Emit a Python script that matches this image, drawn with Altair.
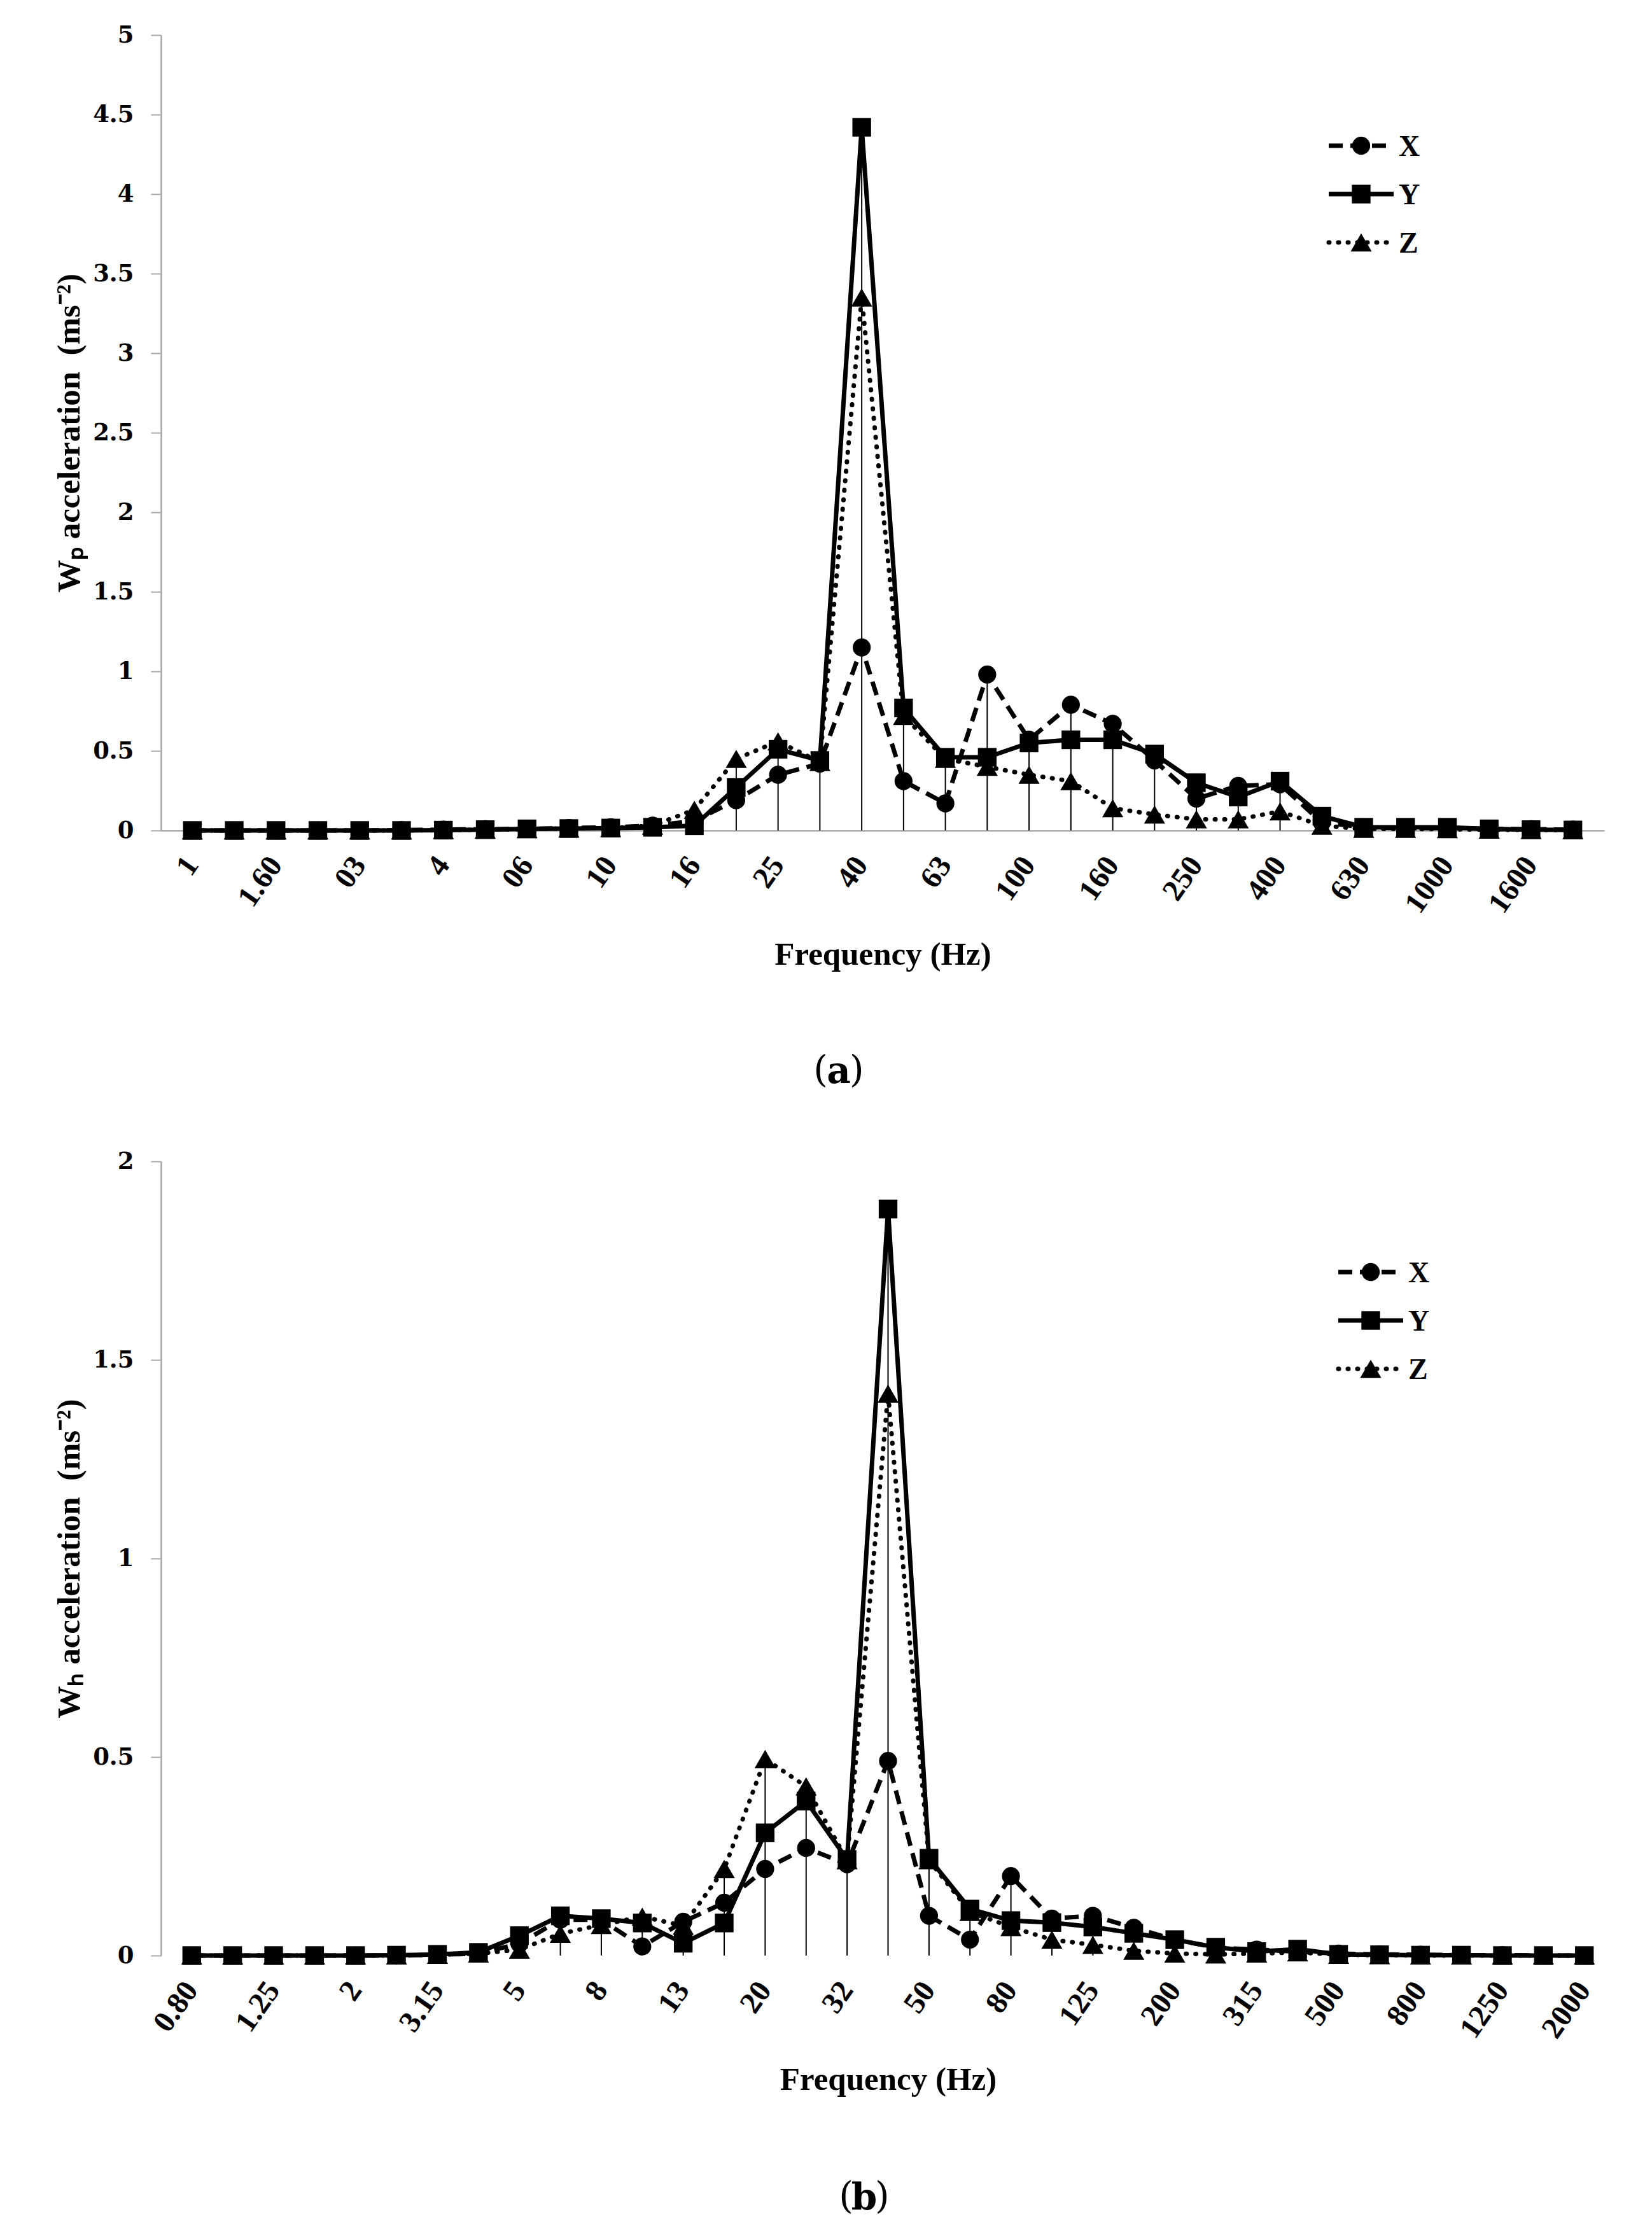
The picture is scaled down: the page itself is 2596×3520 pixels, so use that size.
import json
import altair as alt
import pandas as pd

# ---------------- data ----------------
series_names = ["X", "Y", "Z"]

# panel (a): 1/3-octave bands 1 Hz .. 2000 Hz
freq_a = ["1", "1.25", "1.6", "2", "2.5", "3.15", "4", "5", "6.3", "8", "10", "12.5",
          "16", "20", "25", "31.5", "40", "50", "63", "80", "100", "125", "160", "200",
          "250", "315", "400", "500", "630", "800", "1000", "1250", "1600", "2000"]
ticklab_a = ["1", "", "1.60", "", "03", "", "4", "", "06", "", "10", "", "16", "", "25", "",
             "40", "", "63", "", "100", "", "160", "", "250", "", "400", "", "630", "",
             "1000", "", "1600", ""]
x_a = [0.0, 0.0, 0.0, 0.0, 0.0, 0.002, 0.005, 0.008, 0.01, 0.015, 0.02, 0.03,
       0.06, 0.19, 0.35, 0.42, 1.15, 0.31, 0.17, 0.98, 0.57, 0.79, 0.67, 0.44,
       0.20, 0.28, 0.29, 0.05, 0.02, 0.015, 0.015, 0.01, 0.008, 0.005]
y_a = [0.0, 0.0, 0.0, 0.0, 0.0, 0.0, 0.002, 0.005, 0.01, 0.012, 0.015, 0.02,
       0.03, 0.27, 0.51, 0.44, 4.42, 0.77, 0.46, 0.46, 0.55, 0.57, 0.57, 0.48,
       0.30, 0.21, 0.31, 0.09, 0.02, 0.02, 0.02, 0.01, 0.005, 0.003]
z_a = [0.0, 0.0, 0.0, 0.0, 0.0, 0.0, 0.002, 0.005, 0.008, 0.012, 0.015, 0.03,
       0.13, 0.45, 0.56, 0.43, 3.35, 0.72, 0.45, 0.40, 0.35, 0.31, 0.14, 0.10,
       0.07, 0.07, 0.12, 0.03, 0.01, 0.01, 0.008, 0.005, 0.003, 0.002]
yticks_a = [0, 0.5, 1, 1.5, 2, 2.5, 3, 3.5, 4, 4.5, 5]

# panel (b): 1/3-octave bands 0.8 Hz .. 2000 Hz
freq_b = ["0.8", "1", "1.25", "1.6", "2", "2.5", "3.15", "4", "5", "6.3", "8", "10",
          "12.5", "16", "20", "25", "31.5", "40", "50", "63", "80", "100", "125", "160",
          "200", "250", "315", "400", "500", "630", "800", "1000", "1250", "1600", "2000"]
ticklab_b = ["0.80", "", "1.25", "", "2", "", "3.15", "", "5", "", "8", "", "13", "",
             "20", "", "32", "", "50", "", "80", "", "125", "", "200", "", "315", "",
             "500", "", "800", "", "1250", "", "2000"]
x_b = [0.0, 0.0, 0.0, 0.0, 0.0, 0.0, 0.002, 0.005, 0.03, 0.09, 0.09, 0.023,
       0.085, 0.133, 0.218, 0.271, 0.23, 0.49, 0.10, 0.04, 0.20, 0.093, 0.10, 0.07,
       0.04, 0.02, 0.015, 0.01, 0.005, 0.003, 0.002, 0.001, 0.001, 0.0, 0.0]
y_b = [0.0, 0.0, 0.0, 0.0, 0.0, 0.001, 0.003, 0.008, 0.05, 0.10, 0.093, 0.082,
       0.031, 0.082, 0.309, 0.389, 0.242, 1.88, 0.245, 0.117, 0.088, 0.083, 0.072, 0.056,
       0.04, 0.021, 0.01, 0.016, 0.003, 0.002, 0.001, 0.001, 0.0, 0.0, 0.0]
z_b = [0.0, 0.0, 0.0, 0.0, 0.0, 0.0, 0.002, 0.005, 0.015, 0.055, 0.077, 0.098,
       0.075, 0.218, 0.495, 0.426, 0.24, 1.415, 0.24, 0.11, 0.072, 0.04, 0.027, 0.012,
       0.005, 0.003, 0.005, 0.008, 0.002, 0.001, 0.0, 0.0, 0.0, 0.0, 0.0]
yticks_b = [0, 0.5, 1, 1.5, 2]

# ---------------- styling ----------------
SERIF = "Liberation Serif"
GRAY = "#a6a6a6"
STYLE = {
    "X": dict(dash=[22, 12], cap="butt", width=7, shape="circle", size=800),
    "Y": dict(dash=None, cap="butt", width=7, shape="square", size=860),
    "Z": dict(dash=[1, 14], cap="round", width=7, shape="triangle-up", size=1100),
}


def long_df(freqs, xs, ys, zs):
    rows = []
    for i, f in enumerate(freqs):
        for s, arr in zip(series_names, (xs, ys, zs)):
            rows.append({"idx": i, "freq": f, "series": s, "value": arr[i]})
    return pd.DataFrame(rows)


def drop_df(freqs, xs, ys, zs):
    return pd.DataFrame({"idx": list(range(len(freqs))), "freq": freqs,
                         "value": [max(a, b, c) for a, b, c in zip(xs, ys, zs)]})


def make_panel(freqs, ticklabs, xs, ys, zs, ymax, yticks, ytitle, width, height,
               caption, caption_x, show_xdomain, legend_x, spacer_x, spacer_y, spacer_y2):
    df = long_df(freqs, xs, ys, zs)
    dd = drop_df(freqs, xs, ys, zs)
    one = pd.DataFrame({"k": [0]})
    leg = pd.DataFrame({"series": series_names})

    x_enc = alt.X(
        "idx:O",
        scale=alt.Scale(padding=0.5),
        axis=alt.Axis(
            title="Frequency (Hz)",
            labelExpr=json.dumps(ticklabs) + "[datum.value]",
            labelAngle=-55, labelAlign="right", labelBaseline="middle",
            labelPadding=46, labelFont=SERIF, labelFontWeight="bold",
            labelFontSize=48, labelColor="black", labelOverlap=False,
            labelBound=False, labelFlush=False,
            ticks=False, tickSize=0, domain=show_xdomain, domainColor=GRAY,
            domainWidth=2.5, grid=False,
            titleFont=SERIF, titleFontSize=51, titleFontWeight="bold",
            titleColor="black", titleY=195, titleBaseline="middle",
        ),
    )
    y_enc = alt.Y(
        "value:Q",
        scale=alt.Scale(domain=[0, ymax], nice=False, zero=True),
        axis=alt.Axis(
            title=ytitle, values=yticks, labelExpr="datum.value + ''",
            grid=False, tickSize=16, tickColor=GRAY, tickWidth=2,
            domainColor=GRAY, domainWidth=2.5,
            labelFont="DejaVu Serif", labelFontWeight="bold", labelFontSize=37,
            labelColor="black", labelPadding=27,
            titleFont=SERIF, titleFontSize=51, titleFontWeight="bold",
            titleColor="black", titleX=-144, titleBaseline="middle",
        ),
    )

    layers = []
    # drop lines
    layers.append(
        alt.Chart(dd).mark_rule(color="black", strokeWidth=2).encode(
            x=x_enc, y=y_enc, y2=alt.datum(0))
    )
    for s in series_names:
        st = STYLE[s]
        line_kw = dict(color="black", strokeWidth=st["width"], strokeCap=st["cap"],
                       strokeJoin="round")
        if st["dash"]:
            line_kw["strokeDash"] = st["dash"]
        base = alt.Chart(df).transform_filter(alt.datum.series == s)
        layers.append(base.mark_line(**line_kw).encode(x=x_enc, y=y_enc))
        layers.append(base.mark_point(shape=st["shape"], filled=True, size=st["size"],
                                      color="black", opacity=1).encode(x=x_enc, y=y_enc))

    # legend (top right, inside plot)
    for r, s in enumerate(series_names):
        st = STYLE[s]
        ly = 174 + r * 76
        rule_kw = dict(color="black", strokeWidth=st["width"], strokeCap=st["cap"])
        if st["dash"]:
            rule_kw["strokeDash"] = st["dash"]
        lb = alt.Chart(leg).transform_filter(alt.datum.series == s)
        layers.append(lb.mark_rule(**rule_kw).encode(
            x=alt.value(legend_x), x2=alt.value(legend_x + 102), y=alt.value(ly)))
        layers.append(lb.mark_point(shape=st["shape"], filled=True, size=st["size"],
                                    color="black", opacity=1).encode(
            x=alt.value(legend_x + 51), y=alt.value(ly)))
        layers.append(lb.mark_text(font=SERIF, fontWeight="bold", fontSize=46,
                                   align="left", baseline="middle", color="black").encode(
            x=alt.value(legend_x + 110), y=alt.value(ly + 2), text="series:N"))

    # caption "(a)" / "(b)"
    cap_y = 1628
    layers.append(alt.Chart(one).mark_text(text="(", font="DejaVu Serif", fontSize=58,
                                           align="right", baseline="middle", color="black")
                  .encode(x=alt.value(caption_x - 17), y=alt.value(cap_y)))
    layers.append(alt.Chart(one).mark_text(text=caption, font="DejaVu Serif", fontSize=58,
                                           fontWeight="bold", align="center",
                                           baseline="middle", color="black")
                  .encode(x=alt.value(caption_x), y=alt.value(cap_y + 2)))
    layers.append(alt.Chart(one).mark_text(text=")", font="DejaVu Serif", fontSize=58,
                                           align="left", baseline="middle", color="black")
                  .encode(x=alt.value(caption_x + 17), y=alt.value(cap_y)))

    # invisible layout spacer
    layers.append(alt.Chart(one).mark_rule(opacity=0, strokeWidth=1).encode(
        x=alt.value(spacer_x), y=alt.value(spacer_y), y2=alt.value(spacer_y2)))

    return alt.layer(*layers).properties(width=width, height=height)


panel_a = make_panel(freq_a, ticklab_a, x_a, y_a, z_a, 5, yticks_a,
                     "Wₚ acceleration\u00a0 (ms⁻²)", 2268, 1250, "a", 1065, True,
                     1835, -245, -47, 1695)
panel_b = make_panel(freq_b, ticklab_b, x_b, y_b, z_b, 2, yticks_b,
                     "Wₕ acceleration\u00a0 (ms⁻²)", 2285, 1248, "b", 1105, False,
                     1850, -205, -75, 1685)

chart = alt.vconcat(panel_a, panel_b, spacing=0).properties(
    padding=0, background="white"
).configure_view(stroke=None)

chart.save("out.html", embed_options={"renderer": "svg", "actions": False})
